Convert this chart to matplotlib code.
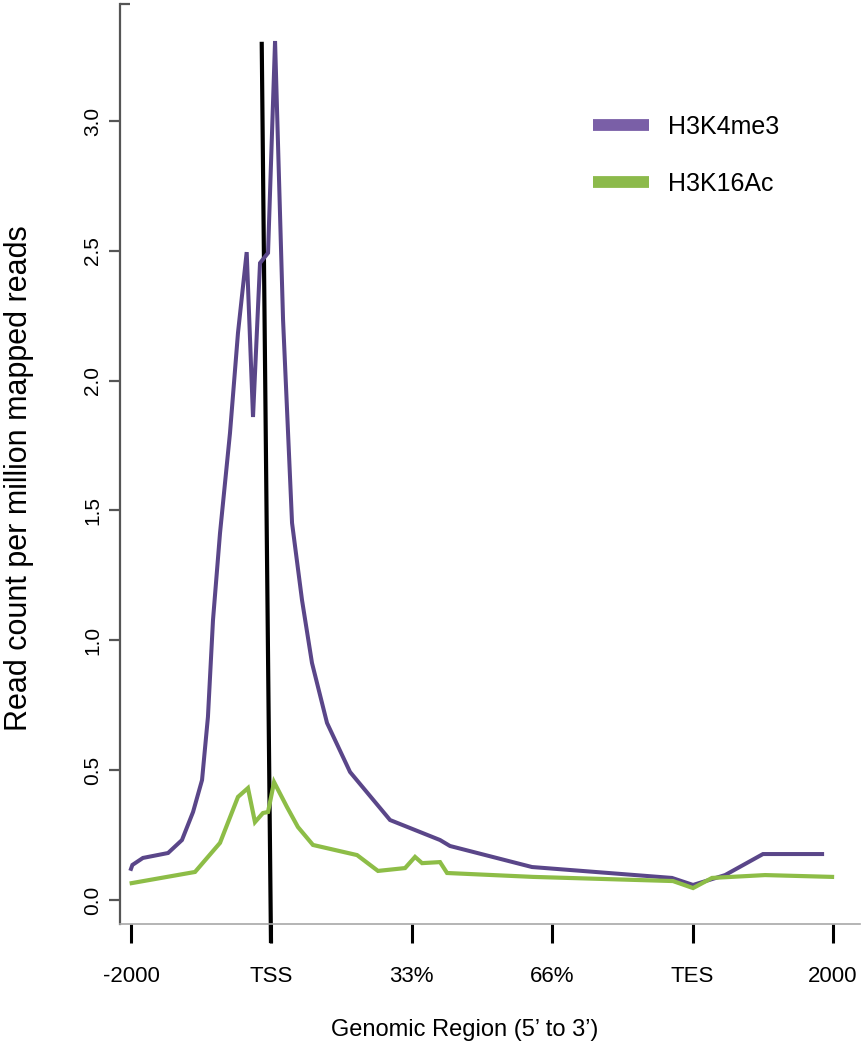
import matplotlib
matplotlib.use("Agg")
import matplotlib.pyplot as plt
from matplotlib.lines import Line2D

# ---- data (x in region units: -2000=0, TSS=1, 33%=2, 66%=3, TES=4, 2000=5) ----
tick_positions = [0, 1, 2, 3, 4, 5]
tick_labels = ['-2000', 'TSS', '33%', '66%', 'TES', '2000']
ytick_values = [0.0, 0.5, 1.0, 1.5, 2.0, 2.5, 3.0]

h3k4me3_x = [0.0, 0.01, 0.085, 0.264, 0.363, 0.442, 0.506, 0.548, 0.584, 0.634,
             0.705, 0.762, 0.824, 0.869, 0.919, 0.976, 1.026, 1.083, 1.147, 1.218,
             1.289, 1.396, 1.560, 1.845, 2.201, 2.272, 2.856, 3.853, 4.003, 4.231,
             4.501, 4.922]
h3k4me3_y = [0.12, 0.135, 0.162, 0.181, 0.231, 0.339, 0.462, 0.705, 1.078, 1.413,
             1.798, 2.184, 2.495, 1.860, 2.453, 2.492, 3.308, 2.234, 1.452, 1.155,
             0.913, 0.682, 0.493, 0.308, 0.231, 0.208, 0.127, 0.085, 0.058, 0.096,
             0.177, 0.177]

h3k16ac_x = [0.005, 0.456, 0.634, 0.762, 0.833, 0.883, 0.940, 0.976, 1.019, 1.111,
             1.189, 1.296, 1.610, 1.759, 1.952, 2.023, 2.073, 2.201, 2.251, 2.863,
             3.860, 4.003, 4.138, 4.516, 4.993]
h3k16ac_y = [0.065, 0.108, 0.220, 0.397, 0.431, 0.300, 0.335, 0.339, 0.454, 0.358,
             0.281, 0.212, 0.173, 0.112, 0.123, 0.166, 0.142, 0.146, 0.104, 0.089,
             0.073, 0.046, 0.085, 0.096, 0.089]

tss_line_x = [0.931, 0.997]
tss_line_y = [3.305, -0.166]

series_names = ['H3K4me3', 'H3K16Ac']

# ---- styling ----
purple_line = '#5a4689'
green_line = '#8dbd47'
purple_legend = '#7a5fa7'
green_legend = '#8cba4b'

fig = plt.figure(figsize=(8.64, 10.5), dpi=100)
ax = fig.add_axes([120/864, 126/1050, 740/864, 920/1050])

ax.plot(tss_line_x, tss_line_y, color='black', lw=3.0, solid_capstyle='butt',
        clip_on=False, zorder=2)
ax.plot(h3k4me3_x, h3k4me3_y, color=purple_line, lw=2.9, zorder=3,
        solid_joinstyle='miter')
ax.plot(h3k16ac_x, h3k16ac_y, color=green_line, lw=3.0, zorder=4,
        solid_joinstyle='miter')

ax.set_xlim(-0.0783, 5.192)
ax.set_ylim(-0.0924, 3.4505)

for s in ['top', 'right']:
    ax.spines[s].set_visible(False)
ax.spines['left'].set_color('#555555')
ax.spines['left'].set_linewidth(1.6)
ax.spines['bottom'].set_color('#a8a8a8')
ax.spines['bottom'].set_linewidth(1.2)

ax.set_xticks(tick_positions)
ax.set_xticklabels(tick_labels, family=['Liberation Sans', 'DejaVu Sans'], fontsize=16)
ax.tick_params(axis='x', length=14, width=2.2, color='black', pad=16)

ax.set_yticks(ytick_values)
ax.set_yticklabels([f'{v:.1f}' for v in ytick_values],
                   family=['Liberation Sans Narrow', 'Liberation Sans', 'DejaVu Sans'],
                   fontsize=15, rotation=90, va='center')
ax.tick_params(axis='y', length=8, width=1.6, color='#555555', pad=5)
ax.set_yticks([3.4505], minor=True)
ax.tick_params(axis='y', which='minor', direction='in', length=7, width=1.6, color='#555555')

ax.set_xlabel("Genomic Region (5\u2019 to 3\u2019)", fontsize=17,
              family=['Liberation Sans', 'DejaVu Sans'], va='center')
ax.xaxis.set_label_coords(0.466, -0.1152)
ax.set_ylabel('Read count per million mapped reads', fontsize=22,
              family=['Liberation Sans', 'DejaVu Sans'], va='center')
ax.yaxis.set_label_coords(-0.137, 0.485)

handles = [Line2D([], [], color=purple_legend, lw=8.5, solid_capstyle='butt'),
           Line2D([], [], color=green_legend, lw=8.5, solid_capstyle='butt')]
leg = ax.legend(handles, series_names, loc='upper left',
                bbox_to_anchor=(593/864, 1 - 115/1050), bbox_transform=fig.transFigure,
                frameon=False, borderpad=0, borderaxespad=0, handlelength=2.25,
                handletextpad=0.75, labelspacing=1.3,
                prop={'family': ['Liberation Sans', 'DejaVu Sans'], 'size': 18})

fig.savefig('out.png', dpi=100)
